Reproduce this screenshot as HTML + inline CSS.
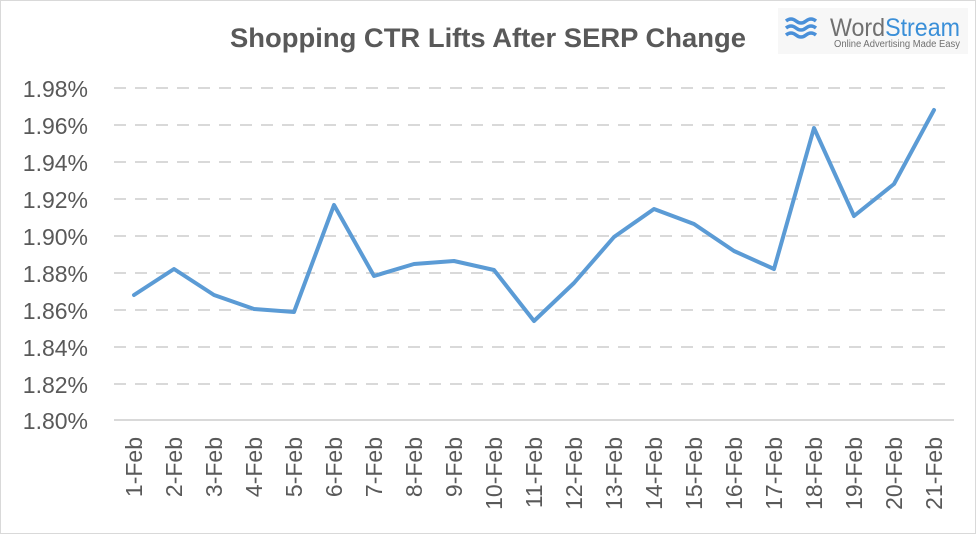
<!DOCTYPE html>
<html><head><meta charset="utf-8"><style>
html,body{margin:0;padding:0;background:#fff;}
svg{display:block;}
</style></head><body>
<svg width="977" height="535" viewBox="0 0 977 535" xmlns="http://www.w3.org/2000/svg">
<rect x="0.5" y="0.5" width="975" height="533" fill="#fff" stroke="#d9d9d9"/>
<text x="488" y="47" text-anchor="middle" font-family="Liberation Sans, sans-serif" font-weight="bold" font-size="27" fill="#595959" textLength="516" lengthAdjust="spacingAndGlyphs">Shopping CTR Lifts After SERP Change</text>
<rect x="778" y="8" width="190" height="46" fill="#f7f7f7"/>
<g>
<path d="M786 21 q5 -4 10 0 t10 0 t10 0 M786 28 q5 -4 10 0 t10 0 t10 0 M786 35 q5 -4 10 0 t10 0 t10 0" stroke="#4a90d9" stroke-width="3.5" fill="none"/>
<text x="830" y="36" font-family="Liberation Sans, sans-serif" font-size="25" fill="#707070" textLength="130" lengthAdjust="spacingAndGlyphs">Word<tspan fill="#3a8fd8">Stream</tspan></text>
<text x="834" y="47" font-family="Liberation Sans, sans-serif" font-size="10" fill="#707070" textLength="126" lengthAdjust="spacingAndGlyphs">Online Advertising Made Easy</text>
</g>
<g stroke="#d9d9d9" stroke-width="2" stroke-dasharray="12,9">
<line x1="114" x2="950" y1="88" y2="88"/>
<line x1="114" x2="950" y1="125" y2="125"/>
<line x1="114" x2="950" y1="162" y2="162"/>
<line x1="114" x2="950" y1="199" y2="199"/>
<line x1="114" x2="950" y1="236" y2="236"/>
<line x1="114" x2="950" y1="273" y2="273"/>
<line x1="114" x2="950" y1="310" y2="310"/>
<line x1="114" x2="950" y1="347" y2="347"/>
<line x1="114" x2="950" y1="384" y2="384"/>
</g>
<line x1="114" x2="954" y1="420" y2="420" stroke="#d9d9d9" stroke-width="2"/>
<g font-family="Liberation Sans, sans-serif" font-size="23" fill="#595959" text-anchor="end">
<text x="88" y="97">1.98%</text>
<text x="88" y="134">1.96%</text>
<text x="88" y="171">1.94%</text>
<text x="88" y="208">1.92%</text>
<text x="88" y="245">1.90%</text>
<text x="88" y="282">1.88%</text>
<text x="88" y="319">1.86%</text>
<text x="88" y="356">1.84%</text>
<text x="88" y="393">1.82%</text>
<text x="88" y="429">1.80%</text>
</g>
<g font-family="Liberation Sans, sans-serif" font-size="23" fill="#595959" text-anchor="end">
<text transform="translate(142,437) rotate(-90)">1-Feb</text>
<text transform="translate(182,437) rotate(-90)">2-Feb</text>
<text transform="translate(222,437) rotate(-90)">3-Feb</text>
<text transform="translate(262,437) rotate(-90)">4-Feb</text>
<text transform="translate(302,437) rotate(-90)">5-Feb</text>
<text transform="translate(342,437) rotate(-90)">6-Feb</text>
<text transform="translate(382,437) rotate(-90)">7-Feb</text>
<text transform="translate(422,437) rotate(-90)">8-Feb</text>
<text transform="translate(462,437) rotate(-90)">9-Feb</text>
<text transform="translate(502,437) rotate(-90)">10-Feb</text>
<text transform="translate(542,437) rotate(-90)">11-Feb</text>
<text transform="translate(582,437) rotate(-90)">12-Feb</text>
<text transform="translate(622,437) rotate(-90)">13-Feb</text>
<text transform="translate(662,437) rotate(-90)">14-Feb</text>
<text transform="translate(702,437) rotate(-90)">15-Feb</text>
<text transform="translate(742,437) rotate(-90)">16-Feb</text>
<text transform="translate(782,437) rotate(-90)">17-Feb</text>
<text transform="translate(822,437) rotate(-90)">18-Feb</text>
<text transform="translate(862,437) rotate(-90)">19-Feb</text>
<text transform="translate(902,437) rotate(-90)">20-Feb</text>
<text transform="translate(942,437) rotate(-90)">21-Feb</text>
</g>
<polyline fill="none" stroke="#5b9bd5" stroke-width="4" stroke-linejoin="round" stroke-linecap="round"
points="134,295 174,269 214,295 254,309 294,312 334,205 374,276 414,264 454,261 494,270 534,321 574,283 614,237 654,209 694,224 734,251 774,269 814,128 854,216 894,184 934,110"/>
</svg>
</body></html>
